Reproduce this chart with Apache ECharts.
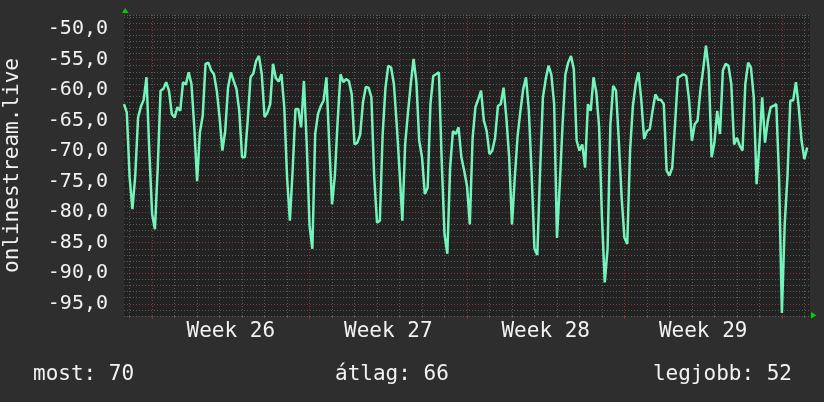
<!DOCTYPE html>
<html>
<head>
<meta charset="utf-8">
<script src="https://cdn.jsdelivr.net/npm/echarts@6/dist/echarts.min.js"></script>
<style>
html,body{margin:0;padding:0;background:#2e2e2e;}
#chart{width:824px;height:402px;}
</style>
</head>
<body>
<div id="chart"></div>
<script>
// ---- data ----
const startHour = -30;          // hours relative to start of Week 26
const stepHours = 3;
const values = [
-62.3,-63.7,-74.3,-79.5,-74.0,-64.5,-62.7,-61.6,-57.9,-70.0,
-80.3,-82.8,-72.7,-60.1,-59.8,-58.7,-60.1,-63.9,-64.5,-62.8,
-63.4,-58.7,-59.1,-57.1,-59.0,-66.1,-74.9,-66.9,-64.2,-55.7,
-55.5,-56.8,-57.4,-60.1,-64.5,-69.9,-66.7,-59.6,-57.1,-58.5,
-59.8,-63.4,-71.0,-71.0,-65.0,-57.9,-57.3,-55.2,-54.4,-57.4,
-64.4,-63.7,-62.3,-55.7,-58.0,-58.6,-57.4,-62.8,-74.3,-81.4,
-73.0,-63.1,-63.1,-66.1,-58.5,-68.9,-82.2,-86.0,-67.2,-63.9,
-62.6,-61.7,-57.9,-68.9,-78.7,-74.0,-65.0,-57.4,-58.7,-58.2,
-58.5,-60.7,-68.9,-68.6,-67.3,-62.0,-59.5,-59.6,-61.2,-74.3,
-81.7,-81.4,-67.2,-59.6,-56.0,-56.3,-59.0,-65.6,-73.2,-81.4,
-68.9,-63.7,-59.0,-54.9,-58.7,-68.3,-71.0,-77.0,-76.0,-62.3,
-57.7,-57.4,-57.1,-71.6,-83.6,-86.8,-72.7,-66.7,-67.2,-66.1,
-71.0,-73.2,-75.7,-82.0,-67.8,-62.8,-61.5,-60.1,-65.0,-66.7,
-70.5,-69.9,-67.8,-62.6,-62.3,-59.6,-64.5,-71.0,-82.0,-74.3,
-67.5,-63.4,-59.8,-57.9,-63.4,-73.8,-86.0,-87.0,-73.2,-61.2,
-58.2,-56.0,-57.5,-62.3,-84.2,-75.4,-65.6,-57.4,-55.5,-54.4,
-56.6,-68.3,-69.9,-68.9,-72.7,-62.3,-63.4,-57.9,-60.4,-66.1,
-80.9,-91.5,-86.0,-65.6,-59.3,-60.1,-68.3,-77.6,-84.2,-85.2,
-69.9,-62.6,-59.0,-57.1,-61.7,-68.0,-66.7,-66.4,-63.4,-60.7,
-61.6,-61.6,-62.3,-73.2,-74.0,-72.7,-65.6,-57.9,-57.7,-57.4,
-57.7,-61.7,-68.3,-65.6,-65.0,-60.1,-56.6,-52.7,-56.8,-71.0,
-68.6,-63.4,-67.2,-56.8,-55.7,-56.0,-59.0,-68.9,-67.8,-69.1,
-69.9,-59.0,-55.5,-56.3,-61.2,-75.4,-68.9,-61.2,-68.6,-65.0,
-62.8,-62.6,-62.3,-74.3,-96.5,-82.0,-74.0,-61.7,-61.7,-58.7,
-62.8,-68.3,-71.3,-69.4,null
];
const weekLabels = ['Week 26', 'Week 27', 'Week 28', 'Week 29'];
const majorY = [-95, -90, -85, -80, -75, -70, -65, -60, -55, -50];
const yMin = -97, yMax = -47.7;
const axisTitle = 'onlinestream.live';
const legendTexts = ['most: 70', 'átlag: 66', 'legjobb: 52'];

const hours = values.map((v, i) => String(startHour + i * stepHours));

// ---- styles ----
const FONT = 'DejaVu Sans Mono';
const TXT = '#f2f2f2';
const MINOR = '#595959';
const MAJOR = '#8a3535';
const LINE = '#74f4bb';

const chart = echarts.init(document.getElementById('chart'), null, {renderer: 'canvas'});
const isDay = (i, v) => Number(v) % 24 === 0 && Number(v) % 168 !== 0;
const isWeek = (i, v) => Number(v) % 168 === 0;
const isMidWeek = (i, v) => ((Number(v) % 168) + 168) % 168 === 84;
const legendStyle = {color: TXT, fontFamily: FONT, fontSize: 21, fontWeight: 'normal'};

chart.setOption({
  backgroundColor: '#2e2e2e',
  animation: false,
  grid: {left: 124, right: 14, top: 15, bottom: 86, show: true, backgroundColor: '#222222',
    borderWidth: 0, outerBoundsMode: 'none', containLabel: false},
  title: [
    {text: legendTexts[0], left: 33, top: 364, padding: 0, textStyle: legendStyle},
    {text: legendTexts[1], left: 335, top: 364, padding: 0, textStyle: legendStyle},
    {text: legendTexts[2], right: 32, top: 364, padding: 0, textStyle: legendStyle}
  ],
  xAxis: [
    {
      type: 'category', data: hours, boundaryGap: false,
      axisLine: {show: false},
      axisTick: {show: true, interval: isDay, length: 2, lineStyle: {color: MINOR}},
      splitLine: {show: true, interval: isDay, lineStyle: {color: MINOR, type: [1, 2], width: 1}},
      axisLabel: {show: true, interval: isMidWeek, margin: 5, color: TXT, fontFamily: FONT, fontSize: 21,
        formatter: v => weekLabels[Math.floor(Number(v) / 168)] || ''}
    },
    {
      type: 'category', data: hours, boundaryGap: false, position: 'bottom',
      axisLine: {show: false},
      axisTick: {show: true, interval: isWeek, length: 3, lineStyle: {color: MAJOR}},
      splitLine: {show: true, interval: isWeek, lineStyle: {color: MAJOR, type: [1, 2], width: 1}},
      axisLabel: {show: false}
    }
  ],
  yAxis: {
    type: 'value', min: yMin, max: yMax, interval: 1,
    name: axisTitle, nameLocation: 'middle', nameGap: 101, nameRotate: 90,
    nameTextStyle: {color: TXT, fontFamily: FONT, fontSize: 21},
    axisLine: {show: false}, axisTick: {show: false},
    splitLine: {show: true, lineStyle: {color: MINOR, type: [1, 2], width: 1}},
    axisLabel: {color: TXT, fontFamily: FONT, fontSize: 20, margin: 16,
      formatter: v => (Math.abs(v % 5) < 1e-6 ? v.toFixed(1).replace('.', ',') : '')}
  },
  series: [
    {
      type: 'line', data: values.map(() => null), z: 1, silent: true, showSymbol: false,
      lineStyle: {opacity: 0},
      markLine: {silent: true, symbol: 'none', label: {show: false}, animation: false,
        lineStyle: {color: MAJOR, type: [1, 2], width: 1},
        data: majorY.map(v => ({yAxis: v}))}
    },
    {
      type: 'line', data: values, z: 5, showSymbol: false, connectNulls: false,
      lineStyle: {color: LINE, width: 2.5}, itemStyle: {color: LINE}
    }
  ],
  graphic: [
    {type: 'polygon', shape: {points: [[122, 13], [128.5, 13], [125.2, 8]]}, style: {fill: '#00d000'}},
    {type: 'polygon', shape: {points: [[811, 312], [811, 318.5], [816.5, 315.2]]}, style: {fill: '#00d000'}}
  ]
});
</script>
</body>
</html>
